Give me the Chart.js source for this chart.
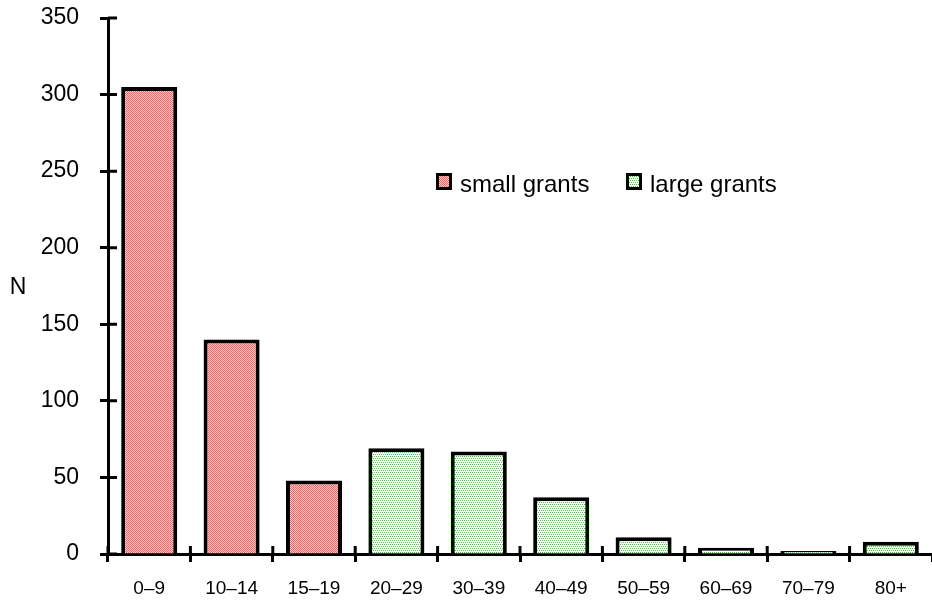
<!DOCTYPE html>
<html>
<head>
<meta charset="utf-8">
<script src="https://cdn.jsdelivr.net/npm/chart.js@4/dist/chart.umd.min.js"></script>
<style>
  html, body { margin: 0; padding: 0; background: #fff; }
  #wrap { width: 932px; height: 604px; position: relative; }
</style>
</head>
<body>
<div id="wrap"><canvas id="grants"></canvas></div>
<script>
// ===== data =====
const categories = ['0–9', '10–14', '15–19', '20–29', '30–39', '40–49', '50–59', '60–69', '70–79', '80+'];
const counts = [305, 140, 48, 69, 67, 37, 11, 4, 2, 8];
const grantType = [0, 0, 0, 1, 1, 1, 1, 1, 1, 1]; // 0 = small, 1 = large
const seriesNames = ['small grants', 'large grants'];
const yTicks = [0, 50, 100, 150, 200, 250, 300, 350];

// dotted fills like the old spreadsheet patterns
function makePattern(bg, dot, isDot) {
  const c = document.createElement('canvas');
  c.width = 4; c.height = 4;
  const g = c.getContext('2d');
  g.fillStyle = bg;
  g.fillRect(0, 0, 4, 4);
  g.fillStyle = dot;
  for (let y = 0; y < 4; y++)
    for (let x = 0; x < 4; x++)
      if (isDot(x, y)) g.fillRect(x, y, 1, 1);
  return g.createPattern(c, 'repeat');
}
const fills = [
  makePattern('#fbcdcd', '#ee6262', (x, y) => (x + y) % 2 === 0),
  makePattern('#ffffff', '#52c24e', (x, y) => y % 2 === 0 && (x + (y % 4 ? 1 : 0)) % 2 === 0)
];

const FONT = 'Liberation Sans, Arial, sans-serif';

// ticks crossing the axis line, the "N" label and the inside legend
const decor = {
  id: 'decor',
  afterDraw(chart) {
    const { ctx, chartArea, scales } = chart;
    ctx.save();
    ctx.strokeStyle = '#000';
    ctx.lineWidth = 3;
    ctx.beginPath();
    scales.y.ticks.forEach(t => {
      const y = scales.y.getPixelForValue(t.value);
      ctx.moveTo(chartArea.left, y);
      ctx.lineTo(chartArea.left + 9, y);
    });
    const step = scales.x.getPixelForValue(1) - scales.x.getPixelForValue(0);
    for (let i = 0; i < categories.length; i++) {
      const x = scales.x.getPixelForValue(i) - step / 2;
      ctx.moveTo(x, chartArea.bottom);
      ctx.lineTo(x, chartArea.bottom - 8);
    }
    ctx.stroke();

    ctx.fillStyle = '#000';
    ctx.font = '23px ' + FONT;
    ctx.textAlign = 'center';
    ctx.textBaseline = 'middle';
    ctx.fillText('N', 18, 288);

    // legend
    const items = [{ x: 436, i: 0 }, { x: 626, i: 1 }];
    ctx.font = '24px ' + FONT;
    ctx.textAlign = 'left';
    ctx.textBaseline = 'alphabetic';
    items.forEach(it => {
      ctx.fillStyle = '#000';
      ctx.fillRect(it.x, 173, 16, 17);
      ctx.fillStyle = fills[it.i];
      ctx.fillRect(it.x + 3, 176, 10, 11);
      ctx.fillStyle = '#000';
      ctx.fillText(seriesNames[it.i], it.x + 24, 192);
    });
    ctx.restore();
  }
};

new Chart(document.getElementById('grants'), {
  type: 'bar',
  data: {
    labels: categories,
    datasets: [{
      label: 'N',
      data: counts,
      backgroundColor: grantType.map(g => fills[g]),
      borderColor: '#000',
      borderWidth: 4,
      borderSkipped: 'bottom',
      categoryPercentage: 1,
      barPercentage: 0.68
    }]
  },
  options: {
    responsive: true,
    maintainAspectRatio: false,
    animation: false,
    layout: { padding: { top: 18, left: 0, right: 0, bottom: 0 } },
    plugins: {
      legend: { display: false },
      tooltip: { enabled: false }
    },
    scales: {
      x: {
        grid: { display: true, drawOnChartArea: false, offset: true, tickLength: 8, tickWidth: 3, color: '#000' },
        border: { color: '#000', width: 3 },
        ticks: { color: '#000', font: { family: FONT, size: 19 }, padding: 15, maxRotation: 0 },
        afterFit: s => { s.height = 50; s.paddingLeft = 0; s.paddingRight = 0; }
      },
      y: {
        min: 0,
        max: 350,
        afterBuildTicks: s => { s.ticks = yTicks.map(v => ({ value: v })); },
        grid: { display: true, drawOnChartArea: false, tickLength: 8, tickWidth: 3, color: '#000' },
        border: { color: '#000', width: 3 },
        ticks: { color: '#000', font: { family: FONT, size: 23 }, padding: 21 },
        afterFit: s => { s.width = 108; s.paddingTop = 0; s.paddingBottom = 0; }
      }
    }
  },
  plugins: [decor]
});
</script>
</body>
</html>
